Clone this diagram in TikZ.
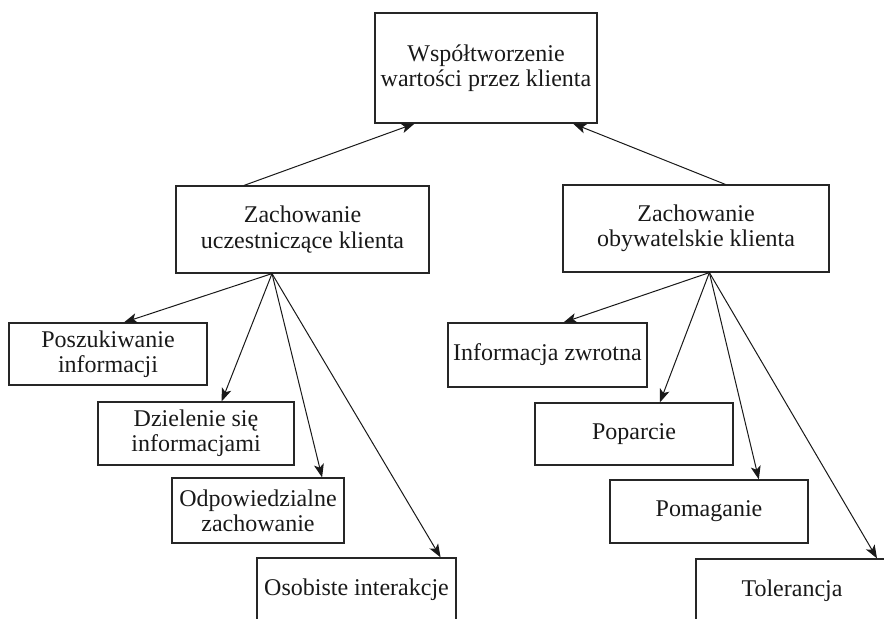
\documentclass[tikz,border=0pt]{standalone}
\usepackage{fontspec}
\setmainfont{Liberation Serif}
\usetikzlibrary{arrows.meta,calc}

\tikzset{
  box/.style={draw=black!85, line width=0.9pt, inner sep=0pt, align=center,
    text=black!90, font=\fontsize{18}{19}\selectfont},
  link/.style={draw=black!90, line width=0.75pt, -{Stealth[length=10pt,width=7.5pt,inset=2.5pt]}}
}

\begin{document}
\begin{tikzpicture}[x=0.75pt,y=0.75pt,yscale=-1,xscale=1]
		%set diagram size to 884 x 618 and cut off the boxes at the bottom edge
		\clip (0,0) rectangle (884,618);
		
		%Shape: Rectangle [top]
		\node[box, minimum width=166.5pt, minimum height=82.5pt] (wspol) at (486,68) {Współtworzenie\\wartości przez klienta};
		
		%Shape: Rectangle [middle row]
		\node[box, minimum width=189.75pt, minimum height=65.25pt] (uczest) at (302.5,229.5) {Zachowanie\\uczestniczące klienta};
		\node[box, minimum width=199.5pt, minimum height=65.25pt] (obyw) at (696,228.5) {Zachowanie\\obywatelskie klienta};
		
		%Shape: Rectangle [left column]
		\node[box, minimum width=148.5pt, minimum height=46.5pt] (poszuk) at (108,354) {Poszukiwanie\\informacji};
		\node[box, minimum width=147pt, minimum height=47.25pt] (dziel) at (196,433.5) {Dzielenie się\\informacjami};
		\node[box, minimum width=129pt, minimum height=48.75pt] (odpow) at (258,510.5) {Odpowiedzialne\\zachowanie};
		\node[box, minimum width=149.25pt, minimum height=48pt] (osob) at (356.5,590) {Osobiste interakcje};
		
		%Shape: Rectangle [right column]
		\node[box, minimum width=149.25pt, minimum height=48pt] (info) at (547.5,355) {Informacja zwrotna};
		\node[box, minimum width=148.5pt, minimum height=46.5pt] (popar) at (634,434) {Poparcie};
		\node[box, minimum width=148.5pt, minimum height=47.25pt] (pomag) at (709,511.5) {Pomaganie};
		\node[box, minimum width=144pt, minimum height=48pt] (toler) at (792,591) {Tolerancja};
		
		%Straight Lines [up to the top box]
		\draw[link] ($(uczest.north west)!0.27!(uczest.north east)$) -- ($(wspol.south west)!0.18!(wspol.south east)$);
		\draw[link] ($(obyw.north west)!0.61!(obyw.north east)$) -- ($(wspol.south west)!0.89!(wspol.south east)$);
		
		%Straight Lines [left fan]
		\draw[link] ($(uczest.south west)!0.38!(uczest.south east)$) -- ($(poszuk.north west)!0.58!(poszuk.north east)$);
		\draw[link] ($(uczest.south west)!0.38!(uczest.south east)$) -- ($(dziel.north west)!0.63!(dziel.north east)$);
		\draw[link] ($(uczest.south west)!0.38!(uczest.south east)$) -- ($(odpow.north west)!0.87!(odpow.north east)$);
		\draw[link] ($(uczest.south west)!0.38!(uczest.south east)$) -- ($(osob.north west)!0.92!(osob.north east)$);
		
		%Straight Lines [right fan]
		\draw[link] ($(obyw.south west)!0.55!(obyw.south east)$) -- ($(info.north west)!0.58!(info.north east)$);
		\draw[link] ($(obyw.south west)!0.55!(obyw.south east)$) -- ($(popar.north west)!0.63!(popar.north east)$);
		\draw[link] ($(obyw.south west)!0.55!(obyw.south east)$) -- ($(pomag.north west)!0.75!(pomag.north east)$);
		\draw[link] ($(obyw.south west)!0.55!(obyw.south east)$) -- ($(toler.north west)!0.94!(toler.north east)$);
		
\end{tikzpicture}
\end{document}
